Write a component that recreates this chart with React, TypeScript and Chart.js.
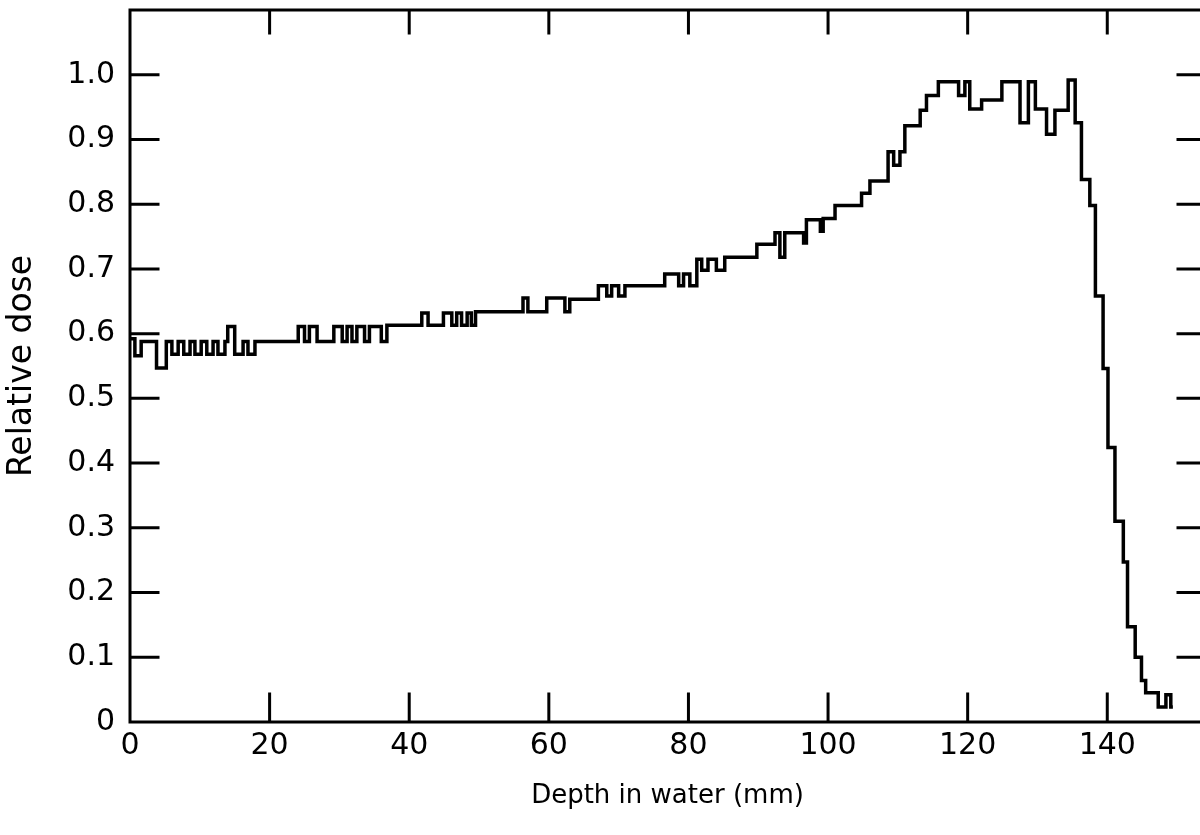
import React, { useEffect, useRef } from 'react';
import { Chart, registerables } from 'chart.js';

Chart.register(...registerables);

// Start depth (mm) of each histogram step
const depthEdges = [
  0, 0.7, 1.6, 3.8, 5.2, 6.0, 6.9, 7.7, 8.6, 9.3,
  10.2, 11.0, 11.9, 12.6, 13.6, 14.0, 15.0, 16.2, 16.9, 17.9,
  24.1, 25.0, 25.7, 26.8, 29.2, 30.4, 31.1, 31.8, 32.5, 33.6,
  34.3, 36.0, 36.8, 41.8, 42.7, 44.9, 46.1, 46.8, 47.5, 48.3,
  48.9, 49.5, 56.3, 57.0, 59.7, 62.3, 63.0, 67.1, 68.3, 69.0,
  70.0, 70.9, 76.6, 78.6, 79.3, 80.2, 81.2, 81.9, 82.8, 84.0,
  85.2, 89.8, 92.4, 93.1, 93.8, 96.5, 96.9, 98.9, 99.3, 101.0,
  104.8, 106.0, 108.6, 109.4, 110.3, 111.0, 113.2, 114.1, 115.8, 118.7,
  119.6, 120.3, 122.0, 124.9, 127.5, 128.7, 129.7, 131.3, 132.5, 134.4,
  135.4, 136.3, 137.5, 138.3, 139.4, 140.1, 141.1, 142.3, 142.9, 144.0,
  144.9, 145.5, 147.3, 148.4, 149.1,
];
const depthEnd = 149.4;

// Relative dose held from each start depth to the next
const doseValues = [
  0.592, 0.566, 0.588, 0.547, 0.588, 0.568, 0.588, 0.568, 0.588, 0.568,
  0.588, 0.568, 0.588, 0.568, 0.588, 0.611, 0.568, 0.588, 0.568, 0.588,
  0.611, 0.588, 0.611, 0.588, 0.611, 0.588, 0.611, 0.588, 0.611, 0.588,
  0.611, 0.588, 0.613, 0.632, 0.613, 0.632, 0.613, 0.632, 0.613, 0.632,
  0.613, 0.634, 0.655, 0.634, 0.655, 0.634, 0.653, 0.674, 0.658, 0.674,
  0.658, 0.674, 0.692, 0.674, 0.692, 0.674, 0.715, 0.698, 0.715, 0.698,
  0.718, 0.738, 0.756, 0.718, 0.756, 0.740, 0.776, 0.758, 0.778, 0.798,
  0.817, 0.836, 0.881, 0.860, 0.881, 0.921, 0.945, 0.968, 0.989, 0.968,
  0.989, 0.947, 0.961, 0.989, 0.926, 0.989, 0.947, 0.908, 0.945, 0.992,
  0.926, 0.838, 0.798, 0.658, 0.546, 0.424, 0.310, 0.247, 0.147, 0.100,
  0.064, 0.045, 0.023, 0.042, 0.023,
];

const xTickStep = 20;
const yTickStep = 0.1;
const xTitle = 'Depth in water (mm)';
const yTitle = 'Relative dose';

const FONT = 'DejaVu Sans';

const frameTicks = {
  id: 'frameTicks',
  afterDatasetsDraw(chart: any) {
    const { ctx, chartArea: a, scales } = chart;
    const xs = scales.x;
    const ys = scales.y;
    ctx.save();
    ctx.strokeStyle = '#000';
    ctx.lineWidth = 3;
    ctx.lineCap = 'square';
    ctx.beginPath();
    ctx.moveTo(a.left, a.top); ctx.lineTo(a.right, a.top);
    ctx.moveTo(a.left, a.top); ctx.lineTo(a.left, a.bottom);
    ctx.moveTo(a.left, a.bottom); ctx.lineTo(a.right, a.bottom);
    ctx.moveTo(a.right, a.top); ctx.lineTo(a.right, a.bottom);
    xs.ticks.forEach((t: any) => {
      if (t.value <= xs.min + 1e-9 || t.value >= xs.max - 1e-9) return;
      const px = xs.getPixelForValue(t.value);
      ctx.moveTo(px, a.bottom); ctx.lineTo(px, a.bottom - 28);
      ctx.moveTo(px, a.top); ctx.lineTo(px, a.top + 23);
    });
    ys.ticks.forEach((t: any) => {
      if (t.value <= ys.min + 1e-9 || t.value >= 1.05) return;
      const py = ys.getPixelForValue(t.value);
      ctx.moveTo(a.left, py); ctx.lineTo(a.left + 28, py);
      ctx.moveTo(a.right, py); ctx.lineTo(a.right - 27, py);
    });
    ctx.stroke();
    ctx.restore();
  },
};

export default function App() {
  const ref = useRef<HTMLCanvasElement | null>(null);

  useEffect(() => {
    if (!ref.current) return;
    const points = depthEdges.map((x, i) => ({ x, y: doseValues[i] }));
    points.push({ x: depthEnd, y: doseValues[doseValues.length - 1] });

    const chart = new Chart(ref.current, {
      type: 'line',
      data: {
        datasets: [
          {
            data: points,
            stepped: true,
            borderColor: '#000',
            borderWidth: 3.5,
            pointRadius: 0,
            fill: false,
            tension: 0,
          },
        ],
      },
      options: {
        animation: false,
        responsive: false,
        devicePixelRatio: 1,
        layout: { padding: { left: 0, top: 10, right: 10, bottom: 0 } },
        plugins: { legend: { display: false }, tooltip: { enabled: false } },
        scales: {
          x: {
            type: 'linear',
            min: 0,
            max: 154,
            grid: { display: false, drawTicks: false },
            border: { display: false },
            ticks: {
              stepSize: xTickStep,
              includeBounds: false,
              autoSkip: false,
              maxRotation: 0,
              padding: 6,
              color: '#000',
              font: { family: FONT, size: 30 },
              callback: (v: any) => String(v),
            },
            title: {
              display: true,
              text: xTitle,
              color: '#000',
              font: { family: FONT, size: 26 },
              padding: { top: 0, bottom: 23 },
            },
            afterFit: (s: any) => {
              s.height = 113;
              s.paddingLeft = 0;
              s.paddingRight = 0;
            },
          },
          y: {
            type: 'linear',
            min: 0,
            max: 1.1,
            grid: { display: false, drawTicks: false },
            border: { display: false },
            ticks: {
              stepSize: yTickStep,
              autoSkip: false,
              padding: 15,
              color: '#000',
              font: { family: FONT, size: 30 },
              callback: (v: any) => (v > 1.05 ? '' : v === 0 ? '0' : Number(v).toFixed(1)),
            },
            title: {
              display: true,
              text: yTitle,
              color: '#000',
              font: { family: FONT, size: 33 },
              padding: { top: 3, bottom: 0 },
            },
            afterFit: (s: any) => {
              s.width = 130;
              s.paddingTop = 0;
              s.paddingBottom = 0;
            },
          },
        },
      },
      plugins: [frameTicks],
    });
    return () => chart.destroy();
  }, []);

  return (
    <div style={{ position: 'fixed', left: 0, top: 0, width: 1200, height: 835, overflow: 'hidden', background: '#fff' }}>
      <canvas ref={ref} width={1215} height={835} style={{ display: 'block', width: 1215, height: 835 }} />
    </div>
  );
}
